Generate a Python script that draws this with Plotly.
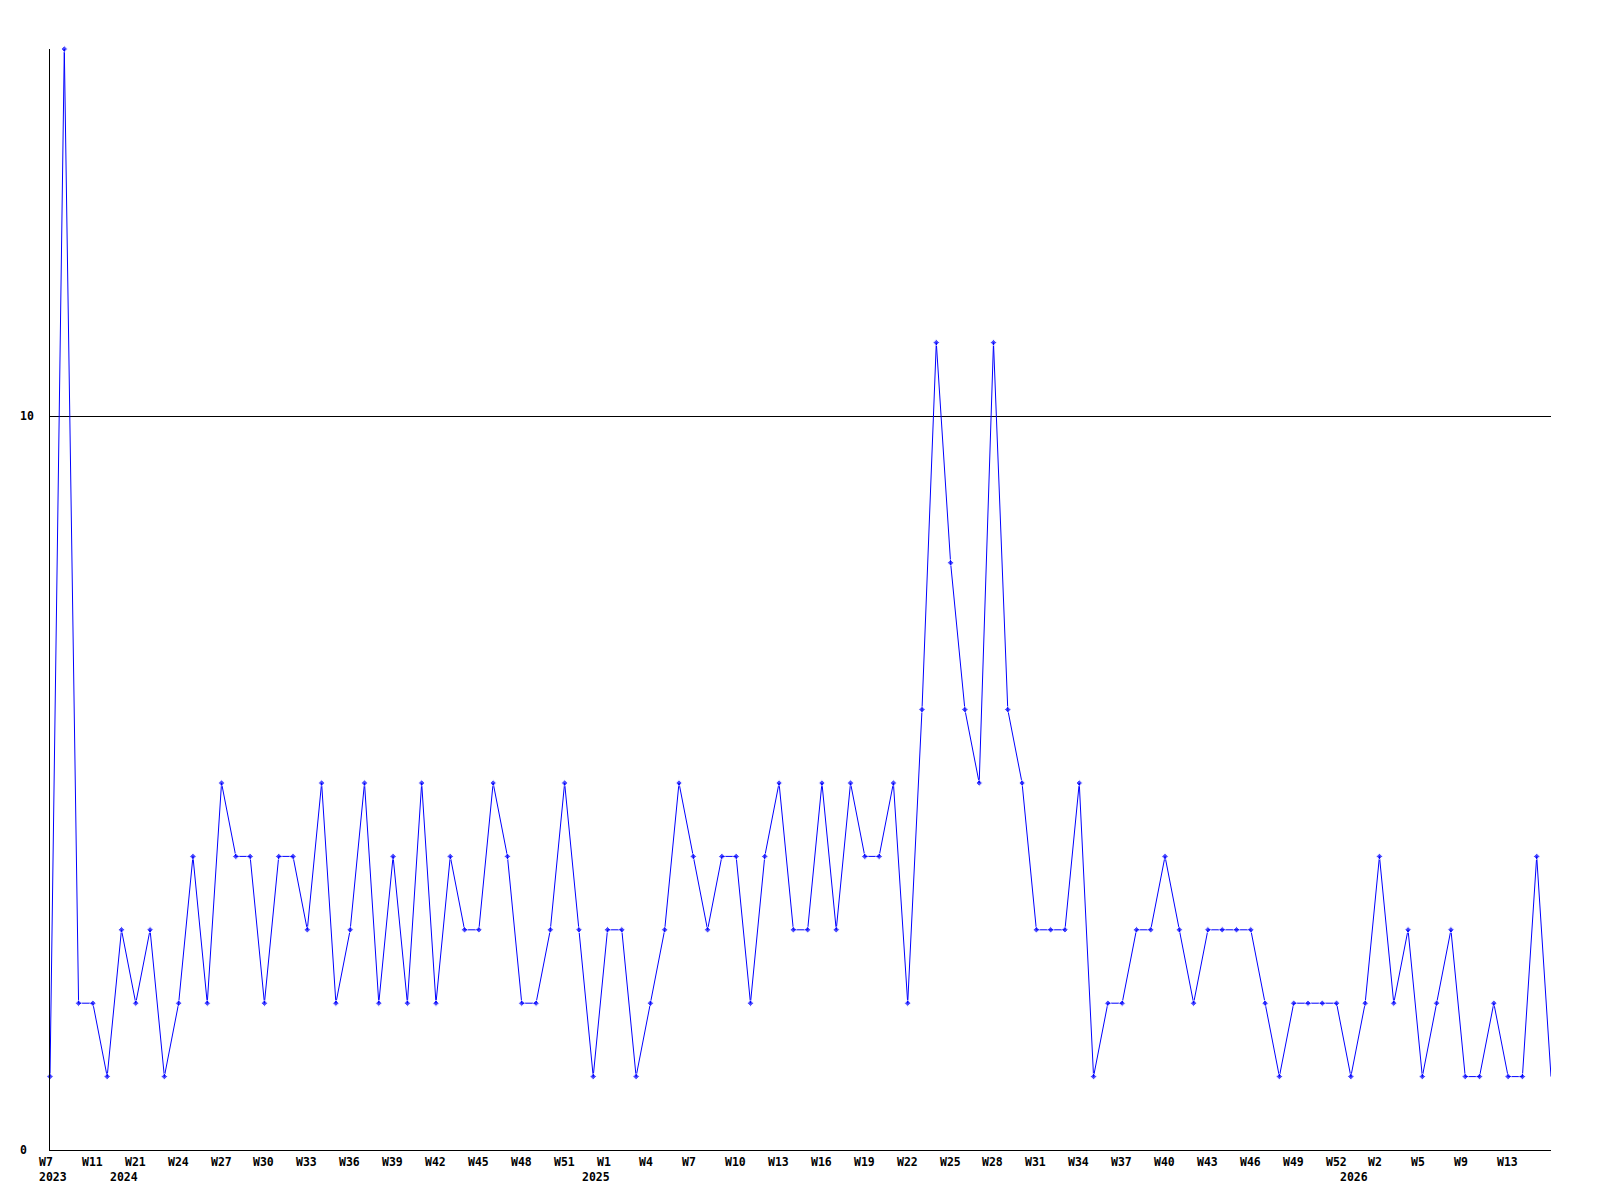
import plotly.graph_objects as go

# ---- data ----
# week numbers of each plotted point, grouped per year
weeks_2023 = [7, 8, 9, 11, 12]
weeks_2024 = list(range(20, 53))
weeks_2025 = list(range(0, 53))
weeks_2026 = [0, 1, 2, 3, 4, 5, 6, 7, 9, 10, 11, 13, 14, 15, 16]
years = [2023, 2024, 2025, 2026]

values = [
    1, 15, 2, 2, 1, 3, 2, 3, 1, 2,
    4, 2, 5, 4, 4, 2, 4, 4, 3, 5,
    2, 3, 5, 2, 4, 2, 5, 2, 4, 3,
    3, 5, 4, 2, 2, 3, 5, 3, 1, 3,
    3, 1, 2, 3, 5, 4, 3, 4, 4, 2,
    4, 5, 3, 3, 5, 3, 5, 4, 4, 5,
    2, 6, 11, 8, 6, 5, 11, 6, 5, 3,
    3, 3, 5, 1, 2, 2, 3, 3, 4, 3,
    2, 3, 3, 3, 3, 2, 1, 2, 2, 2,
    2, 1, 2, 4, 2, 3, 1, 2, 3, 1,
    1, 2, 1, 1, 4, 1,
]

y_tick_values = [0, 10]

# ---- build categories ----
points = []
for yr, wk in zip(years, [weeks_2023, weeks_2024, weeks_2025, weeks_2026]):
    for w in wk:
        points.append((yr, w))
n = len(values)
x = list(range(n))

fig = go.Figure()
sizes = [5] * (n - 1) + [0]
fig.add_trace(go.Scatter(
    x=x, y=values, mode="lines+markers",
    line=dict(color="#0000ff", width=1),
    marker=dict(symbol="diamond", size=sizes, color="#0000ff"),
    cliponaxis=False, hoverinfo="skip",
))

font = dict(family="DejaVu Sans Mono", size=11.5, color="black", weight="bold")
annotations = []
# week labels every third point (last edge point unlabeled)
for i in range(0, n - 1, 3):
    annotations.append(dict(
        x=x[i], y=0, xref="x", yref="paper", text="W%d" % points[i][1],
        showarrow=False, xanchor="left", yanchor="middle", xshift=-12, yshift=-12,
        font=font, borderpad=0,
    ))
# year labels at first point of each year
seen = set()
for i, (yr, w) in enumerate(points):
    if yr not in seen:
        seen.add(yr)
        annotations.append(dict(
            x=x[i], y=0, xref="x", yref="paper", text=str(yr),
            showarrow=False, xanchor="left", yanchor="middle", xshift=-12, yshift=-27,
            font=font, borderpad=0,
        ))
# y labels
for v in y_tick_values:
    annotations.append(dict(
        x=0, y=v, xref="paper", yref="y", text=str(v),
        showarrow=False, xanchor="left", yanchor="middle", xshift=-31,
        font=font, borderpad=0,
    ))

fig.update_layout(
    width=1592, height=1192,
    margin=dict(l=42, r=49, t=41, b=50),
    paper_bgcolor="white", plot_bgcolor="white",
    showlegend=False,
    annotations=annotations,
    xaxis=dict(range=[0, n - 1], showgrid=False, zeroline=False, showline=True,
               linecolor="black", linewidth=1, showticklabels=False, ticks=""),
    yaxis=dict(range=[0, 15], tickvals=[10], showgrid=True, gridcolor="black", gridwidth=1,
               zeroline=False, showline=True, linecolor="black", linewidth=1,
               showticklabels=False, ticks=""),
)

fig.write_html("out.html")
